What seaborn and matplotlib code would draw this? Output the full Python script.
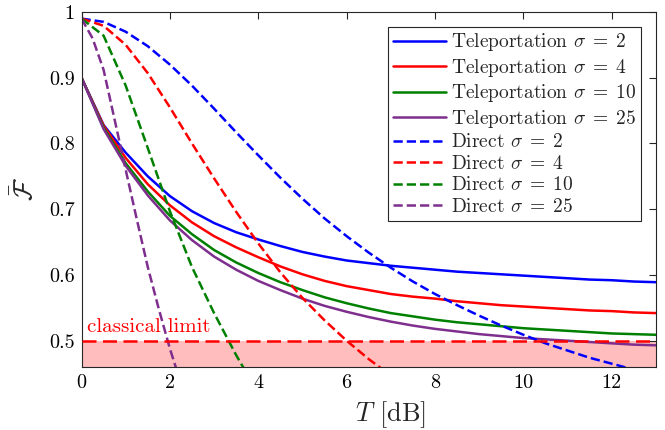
import numpy as np
import pandas as pd
import seaborn as sns
import matplotlib
matplotlib.use("Agg")
import matplotlib.pyplot as plt

# ---- data ----
T_grid = [0, 0.5, 1, 1.5, 2, 2.5, 3, 3.5, 4, 4.5, 5, 5.5, 6, 6.5, 7, 7.5,
          8, 8.5, 9, 9.5, 10, 10.5, 11, 11.5, 12, 12.5, 13]

tele_s2 = [0.900, 0.828, 0.786, 0.750, 0.720, 0.697, 0.679, 0.665, 0.654, 0.644,
           0.635, 0.628, 0.622, 0.618, 0.614, 0.611, 0.608, 0.605, 0.603, 0.601,
           0.599, 0.597, 0.595, 0.593, 0.592, 0.590, 0.589]
tele_s4 = [0.900, 0.827, 0.778, 0.738, 0.706, 0.680, 0.659, 0.642, 0.627, 0.613,
           0.601, 0.591, 0.583, 0.577, 0.571, 0.567, 0.564, 0.560, 0.557, 0.554,
           0.552, 0.550, 0.548, 0.546, 0.545, 0.543, 0.542]
tele_s10 = [0.900, 0.824, 0.770, 0.727, 0.690, 0.662, 0.638, 0.619, 0.603, 0.589,
            0.577, 0.566, 0.557, 0.549, 0.542, 0.537, 0.532, 0.528, 0.525, 0.522,
            0.519, 0.517, 0.515, 0.513, 0.511, 0.510, 0.509]
tele_s25 = [0.900, 0.822, 0.766, 0.721, 0.683, 0.653, 0.628, 0.608, 0.591, 0.577,
            0.564, 0.553, 0.544, 0.536, 0.529, 0.523, 0.518, 0.514, 0.510, 0.507,
            0.504, 0.502, 0.500, 0.498, 0.496, 0.494, 0.493]

direct_s2 = [0.990, 0.985, 0.970, 0.948, 0.920, 0.888, 0.853, 0.817, 0.782, 0.748,
             0.716, 0.686, 0.659, 0.634, 0.611, 0.590, 0.571, 0.554, 0.538, 0.523,
             0.509, 0.496, 0.485, 0.474, 0.465, 0.456, 0.448]
T_direct_s4 = [0, 0.5, 1, 1.5, 2, 2.5, 3, 3.5, 4, 4.5, 5, 5.5, 6, 6.5, 7]
direct_s4 = [0.990, 0.979, 0.950, 0.907, 0.855, 0.800, 0.747, 0.696, 0.648, 0.604,
             0.565, 0.531, 0.500, 0.472, 0.447]
T_direct_s10 = [0, 0.5, 1, 1.5, 2, 2.5, 3, 3.5, 4]
direct_s10 = [0.990, 0.964, 0.888, 0.793, 0.697, 0.612, 0.542, 0.478, 0.420]
T_direct_s25 = [0, 0.25, 0.5, 0.75, 1, 1.25, 1.5, 1.75, 2, 2.25]
direct_s25 = [0.990, 0.960, 0.912, 0.836, 0.760, 0.685, 0.612, 0.548, 0.488, 0.435]

classical_limit = 0.5
x_ticks = [0, 2, 4, 6, 8, 10, 12]
y_ticks = [0.5, 0.6, 0.7, 0.8, 0.9, 1.0]
y_tick_labels = ["0.5", "0.6", "0.7", "0.8", "0.9", "1"]

series = [
    ("Teleportation $\\sigma\\;=\\;2$", T_grid, tele_s2, "blue", "-"),
    ("Teleportation $\\sigma\\;=\\;4$", T_grid, tele_s4, "red", "-"),
    ("Teleportation $\\sigma\\;=\\;10$", T_grid, tele_s10, "green", "-"),
    ("Teleportation $\\sigma\\;=\\;25$", T_grid, tele_s25, "purple", "-"),
    ("Direct $\\sigma\\;=\\;2$", T_grid, direct_s2, "blue", "--"),
    ("Direct $\\sigma\\;=\\;4$", T_direct_s4, direct_s4, "red", "--"),
    ("Direct $\\sigma\\;=\\;10$", T_direct_s10, direct_s10, "green", "--"),
    ("Direct $\\sigma\\;=\\;25$", T_direct_s25, direct_s25, "purple", "--"),
]
colors = {"blue": (0, 0, 1), "red": (1, 0, 0), "green": (0, 0.5, 0),
          "purple": (0.494, 0.184, 0.556)}

sns.set_style("white")
plt.rcParams["font.family"] = ["cmr10", "DejaVu Serif"]
plt.rcParams["mathtext.fontset"] = "cm"
plt.rcParams["axes.formatter.use_mathtext"] = True

fig = plt.figure(figsize=(6.65, 4.3), dpi=100)
ax = fig.add_axes([81.5 / 665, (430 - 367) / 430, (656 - 81.5) / 665, (367 - 12) / 430])

ymin = 0.46
ax.axhspan(ymin - 0.1, classical_limit, color=(1, 0.74, 0.74), lw=0, zorder=0)

DASH = (5.6, 2.6)
for label, xs, ys, c, ls in series:
    df = pd.DataFrame({"T": xs, "F": ys})
    line_kw = dict(lw=1.8)
    if ls == "--":
        line_kw["dashes"] = DASH
    sns.lineplot(data=df, x="T", y="F", ax=ax, color=colors[c], label=label,
                 linestyle=ls, **line_kw)

ax.axhline(classical_limit, color=(1, 0, 0), lw=1.8, dashes=DASH, zorder=3)
ax.text(0.12, 0.5125, "classical limit", color=(1, 0, 0), fontsize=15,
        ha="left", va="baseline")

ax.set_xlim(0, 13)
ax.set_ylim(ymin, 1.0)
ax.set_xticks(x_ticks)
ax.set_xticklabels([str(v) for v in x_ticks])
ax.set_yticks(y_ticks)
ax.set_yticklabels(y_tick_labels)
ax.tick_params(direction="in", length=5, width=0.8, top=True, right=True,
               labelsize=14.5, colors=(0.15, 0.15, 0.15), labelcolor="black", pad=5)
for s in ax.spines.values():
    s.set_color((0.15, 0.15, 0.15))
    s.set_linewidth(0.8)

ax.set_xlabel("$T$ [dB]", fontsize=19, labelpad=1)
ax.xaxis.set_label_coords(0.537, -0.09)
ax.set_ylabel("$\\bar{\\mathcal{F}}$", fontsize=19, labelpad=8)

leg = ax.legend(loc="upper right", fontsize=14, handlelength=2.7, handletextpad=0.3,
                labelspacing=0.18, borderpad=0.25, borderaxespad=0.75,
                fancybox=False, framealpha=1, edgecolor=(0.15, 0.15, 0.15))
leg.get_frame().set_linewidth(0.8)

fig.savefig("out.png", dpi=100)
